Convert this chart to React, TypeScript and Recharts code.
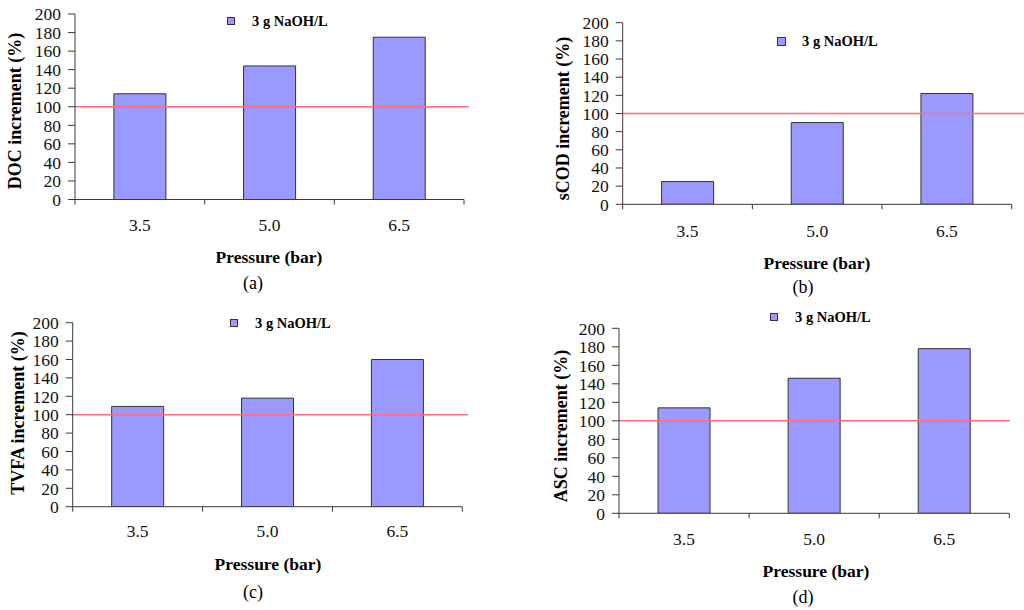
import React from 'react';
import { BarChart, Bar, XAxis, YAxis, ReferenceLine, Legend } from 'recharts';

// ---------- data ----------
const pressures = ['3.5', '5.0', '6.5'];
const docIncrement = [114, 144, 175];
const scodIncrement = [25, 90, 122];
const tvfaIncrement = [109, 118, 160];
const ascIncrement = [114, 146, 178];
const yTicks = [0, 20, 40, 60, 80, 100, 120, 140, 160, 180, 200];
const baseline = 100;
const seriesName = '3 g NaOH/L';
const xTitle = 'Pressure (bar)';

// ---------- style ----------
const FONT = "'Liberation Serif', 'Times New Roman', serif";
const AXIS = '#3a3a3a';
const BAR_FILL = '#9999ff';
const BAR_STROKE = '#333333';
const RED = '#ff6e7a';
const TEXT = '#111';

type Layout = {
  ox: number; oy: number; L: number; R: number; T: number; B: number;
  redEnd: number; legendLeft: number; legendCY: number; sq: number;
  yLabelX: number; yLabelCY: number; tickCY: number;
  xTitleCX: number; xTitleCY: number; letterCX: number; letterCY: number;
};

const BOX_W = 512;
const BOX_H = 305;
const Y_W = 50;
const X_H = 30;

const EdgeTick = (props: any) => {
  const { x, y, payload, index, visibleTicksCount, width, plotW, textDY } = props;
  const count = visibleTicksCount ?? pressures.length;
  const w = typeof width === 'number' && width > 0 ? width : plotW;
  const band = w / count;
  const left = x - band / 2;
  const right = x + band / 2;
  return (
    <g>
      <line x1={left} y1={y} x2={left} y2={y + 5} stroke={AXIS} strokeWidth={1} />
      {index === count - 1 && (
        <line x1={right} y1={y} x2={right} y2={y + 5} stroke={AXIS} strokeWidth={1} />
      )}
      <text
        x={x}
        y={y + textDY}
        textAnchor="middle"
        dominantBaseline="central"
        fontFamily={FONT}
        fontSize={17.5}
        fill={TEXT}
      >
        {payload.value}
      </text>
    </g>
  );
};

function Panel({ values, yTitle, letter, lay }: { values: number[]; yTitle: string; letter: string; lay: Layout }) {
  const rows = pressures.map((p, i) => ({ pressure: p, value: values[i] }));
  const lx = lay.L - lay.ox;
  const ty = lay.T - lay.oy;
  const by = lay.B - lay.oy;
  const margin = {
    top: ty,
    left: lx - Y_W,
    right: lay.ox + BOX_W - lay.R,
    bottom: BOX_H - by - X_H,
  };
  const plotW = lay.R - lay.L;
  const ext = lay.redEnd - lay.R;

  return (
    <div style={{ position: 'absolute', left: lay.ox, top: lay.oy, width: BOX_W, height: BOX_H }}>
      <BarChart width={BOX_W} height={BOX_H} data={rows} margin={margin} barCategoryGap="30%">
        <XAxis
          dataKey="pressure"
          height={X_H}
          interval={0}
          axisLine={{ stroke: AXIS, strokeWidth: 1 }}
          tickLine={false}
          tickSize={0}
          tickMargin={0}
          tick={<EdgeTick plotW={plotW} textDY={lay.tickCY - lay.B} />}
          label={() => (
            <g>
              <text
                x={lay.xTitleCX - lay.ox}
                y={lay.xTitleCY - lay.oy}
                textAnchor="middle"
                dominantBaseline="central"
                fontFamily={FONT}
                fontWeight="bold"
                fontSize={17.5}
                fill="#000"
              >
                {xTitle}
              </text>
              <text
                x={lay.letterCX - lay.ox}
                y={lay.letterCY - lay.oy}
                textAnchor="middle"
                dominantBaseline="central"
                fontFamily={FONT}
                fontSize={18}
                fill="#000"
              >
                {letter}
              </text>
            </g>
          )}
        />
        <YAxis
          width={Y_W}
          domain={[0, 200]}
          ticks={yTicks}
          interval={0}
          allowDataOverflow
          axisLine={{ stroke: AXIS, strokeWidth: 1 }}
          tickLine={{ stroke: AXIS, strokeWidth: 1 }}
          tickSize={7}
          tickMargin={7}
          tick={{ fill: TEXT, fontSize: 17.5, fontFamily: FONT }}
          label={() => {
            const cx = lay.yLabelX - lay.ox;
            const cy = lay.yLabelCY - lay.oy;
            return (
              <text
                x={cx}
                y={cy}
                transform={`rotate(-90, ${cx}, ${cy})`}
                textAnchor="middle"
                dominantBaseline="central"
                fontFamily={FONT}
                fontWeight="bold"
                fontSize={18}
                fill="#000"
              >
                {yTitle}
              </text>
            );
          }}
        />
        <Legend
          layout="horizontal"
          verticalAlign="middle"
          align="center"
          wrapperStyle={{
            left: lay.legendLeft - lay.ox,
            top: lay.legendCY - lay.oy - 9,
            width: 'auto',
            height: 18,
          }}
          content={(p: any) => (
            <div
              style={{
                display: 'flex',
                alignItems: 'center',
                height: 18,
                fontFamily: FONT,
                fontWeight: 'bold',
                fontSize: 14.5,
                color: '#000',
                whiteSpace: 'nowrap',
              }}
            >
              <span
                style={{
                  display: 'inline-block',
                  width: lay.sq,
                  height: lay.sq,
                  boxSizing: 'border-box',
                  background: BAR_FILL,
                  border: `1px solid ${BAR_STROKE}`,
                  marginRight: 25 - lay.sq,
                }}
              />
              <span>{(p && p.payload && p.payload[0] && p.payload[0].value) || seriesName}</span>
            </div>
          )}
        />
        <Bar
          dataKey="value"
          name={seriesName}
          fill={BAR_FILL}
          stroke={BAR_STROKE}
          strokeWidth={1}
          isAnimationActive={false}
        />
        <ReferenceLine
          y={baseline}
          ifOverflow="visible"
          stroke={RED}
          strokeWidth={1.6}
          shape={(sp: any) => (
            <line x1={sp.x1} y1={sp.y1} x2={sp.x2 + ext} y2={sp.y2} stroke={RED} strokeWidth={1.6} />
          )}
        />
      </BarChart>
    </div>
  );
}

const layA: Layout = {
  ox: 0, oy: 0, L: 75, R: 464, T: 14, B: 199.5, redEnd: 469,
  legendLeft: 227, legendCY: 21, sq: 8, yLabelX: 15, yLabelCY: 111, tickCY: 225,
  xTitleCX: 269, xTitleCY: 257, letterCX: 253, letterCY: 283,
};
const layB: Layout = {
  ox: 512, oy: 0, L: 622.7, R: 1011.7, T: 22.7, B: 204.3, redEnd: 1024,
  legendLeft: 777, legendCY: 41, sq: 9, yLabelX: 563, yLabelCY: 118.5, tickCY: 231,
  xTitleCX: 817, xTitleCY: 263, letterCX: 803, letterCY: 287,
};
const layC: Layout = {
  ox: 0, oy: 305, L: 72.7, R: 462.3, T: 322.7, B: 506.7, redEnd: 468,
  legendLeft: 230, legendCY: 323, sq: 8, yLabelX: 18, yLabelCY: 413, tickCY: 531,
  xTitleCX: 268, xTitleCY: 564, letterCX: 253, letterCY: 592,
};
const layD: Layout = {
  ox: 512, oy: 305, L: 619, R: 1009.3, T: 328.3, B: 513.3, redEnd: 1010,
  legendLeft: 770, legendCY: 317, sq: 8, yLabelX: 561, yLabelCY: 426, tickCY: 539,
  xTitleCX: 816, xTitleCY: 571, letterCX: 803, letterCY: 597,
};

export default function App() {
  return (
    <div style={{ position: 'absolute', left: 0, top: 0, width: 1024, height: 610, background: '#fff', overflow: 'hidden' }}>
      <Panel values={docIncrement} yTitle="DOC increment (%)" letter="(a)" lay={layA} />
      <Panel values={scodIncrement} yTitle="sCOD increment (%)" letter="(b)" lay={layB} />
      <Panel values={tvfaIncrement} yTitle="TVFA increment (%)" letter="(c)" lay={layC} />
      <Panel values={ascIncrement} yTitle="ASC increment (%)" letter="(d)" lay={layD} />
    </div>
  );
}
